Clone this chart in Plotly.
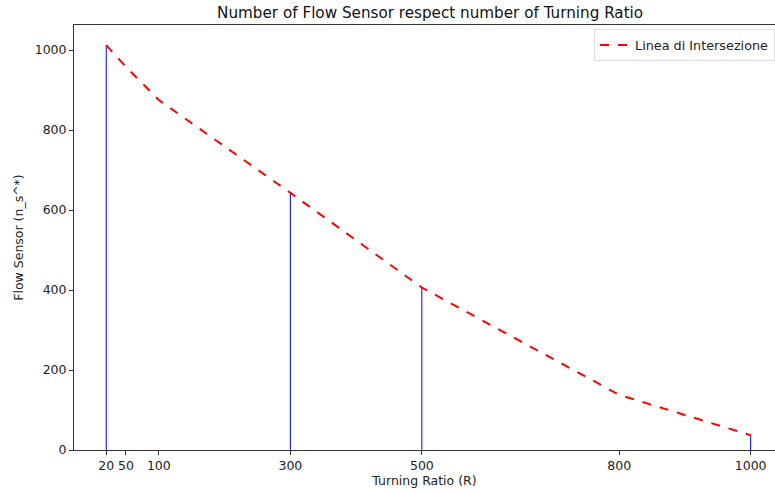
import plotly.graph_objects as go

turning_ratio = [20, 50, 100, 300, 500, 800, 1000]
flow_sensor = [1012, 958, 875, 643, 406, 138, 37]
vline_x = [20, 300, 500, 1000]
vline_y = [1012, 643, 406, 37]
tick_vals = [20, 50, 100, 300, 500, 800, 1000]
y_ticks = [0, 200, 400, 600, 800, 1000]

fig = go.Figure()

for xv, yv in zip(vline_x, vline_y):
    fig.add_trace(go.Scatter(x=[xv, xv], y=[0, yv], mode="lines",
                             line=dict(color="blue", width=1), showlegend=False,
                             hoverinfo="skip"))

fig.add_trace(go.Scatter(x=turning_ratio, y=flow_sensor, mode="lines",
                         name="Linea di Intersezione",
                         line=dict(color="red", width=2, dash="dash")))

font = "DejaVu Sans, Verdana, sans-serif"
fig.update_layout(
    width=775, height=493,
    margin=dict(l=74, r=0, t=25, b=43, autoexpand=False),
    paper_bgcolor="white", plot_bgcolor="white",
    font=dict(family=font, size=12, color="#222"),
    title=dict(text="Number of Flow Sensor respect number of Turning Ratio",
               x=0.555, xanchor="center", y=0.975, yanchor="middle",
               font=dict(size=15.2, color="#111")),
    showlegend=True,
    legend=dict(x=1.0, y=0.99, xanchor="right", yanchor="top",
                bgcolor="white", bordercolor="#ddd", borderwidth=1,
                itemwidth=30, font=dict(size=12.8)),
    xaxis=dict(range=[-29, 1037], tickvals=tick_vals, ticks="outside",
               ticklen=4, tickcolor="#333", showgrid=False, zeroline=False,
               showline=True, linecolor="#333", linewidth=1, mirror=True,
               title=dict(text="Turning Ratio (R)", standoff=4, font=dict(size=12.5)),
               tickfont=dict(size=12.5)),
    yaxis=dict(range=[0, 1062.5], tickvals=y_ticks, ticks="outside",
               ticklen=4, tickcolor="#333", showgrid=False, zeroline=False,
               showline=True, linecolor="#333", linewidth=1,
               title=dict(text="Flow Sensor (n_s^*)", standoff=8, font=dict(size=12.5)),
               tickfont=dict(size=12.5)),
)

fig.write_html("out.html", config={"displayModeBar": False},
               post_script="document.body.style.margin='0';")
